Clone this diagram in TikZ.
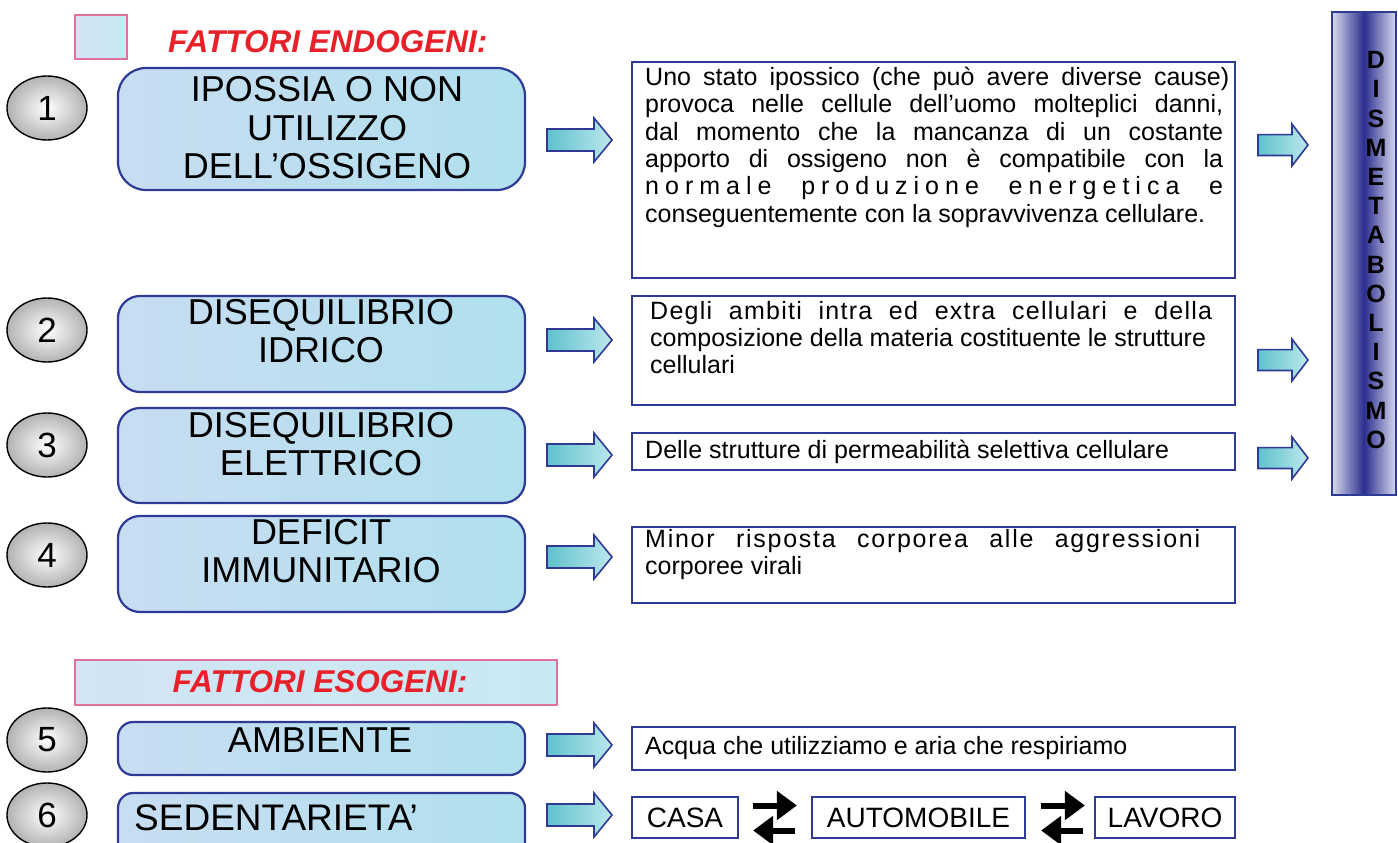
\documentclass[tikz,border=0pt]{standalone}
\usepackage{fontspec}
\setmainfont{Liberation Sans}
\usetikzlibrary{arrows.meta,shapes.geometric,calc}
\definecolor{bord}{HTML}{2E3A94}
\definecolor{pinkb}{HTML}{E0709C}
\definecolor{lbA}{HTML}{C8DDF1}
\definecolor{lbB}{HTML}{B0E0EE}
\definecolor{redt}{HTML}{E8202A}
\definecolor{arrA}{HTML}{5FC2CC}
\definecolor{arrB}{HTML}{BCE7EC}
\definecolor{dismC}{HTML}{2B2F8F}
\definecolor{dismL}{HTML}{D8DAEE}
\newcommand{\fbig}{\fontsize{36}{38.5}\selectfont}
\newcommand{\ftxt}{\fontsize{25}{27.3}\selectfont}
\newcommand{\jl}[1]{\makebox[578pt][s]{#1}}
\newcommand{\blockarrow}[5]{% x tail, y center, length, head length, scale
  \draw[blkarrow] ({#1},{#2-11*#5}) -- ({#1+#3-#4},{#2-11*#5}) -- ({#1+#3-#4},{#2-22*#5})
    -- ({#1+#3},{#2}) -- ({#1+#3-#4},{#2+22*#5}) -- ({#1+#3-#4},{#2+11*#5}) -- ({#1},{#2+11*#5}) -- cycle;}
\begin{document}
\begin{tikzpicture}[x=1pt,y=-1pt,
  factor/.style={draw=bord,line width=2.2pt,left color=lbA,right color=lbB,minimum width=407pt,inner sep=0pt},
  ftext/.style={font=\fbig,align=center,inner sep=0pt},
  numc/.style={ellipse,draw=black,line width=1.4pt,inner color=white,outer color=gray!60,
     minimum width=80pt,minimum height=64pt,inner sep=0pt,font=\fontsize{35}{35}\selectfont},
  tbox/.style={draw=bord,line width=2.2pt,fill=white,minimum width=603pt,inner sep=0pt},
  sbox/.style={draw=bord,line width=2.2pt,fill=white,minimum height=41pt,inner sep=0pt,font=\fontsize{28}{28}\selectfont},
  ttext/.style={font=\ftxt,align=left,inner sep=0pt,anchor=north west},
  legend/.style={draw=pinkb,line width=1.5pt,left color=lbA!80!white,right color=lbB!70!white,inner sep=0pt},
  ftitle/.style={text=redt,font=\fontsize{31.5}{31.5}\selectfont\bfseries\itshape,inner sep=0pt},
  blkarrow/.style={draw=bord,line width=1.6pt,left color=arrA,right color=arrB,line join=miter},
  swaparrow/.style={line width=6pt,-{Triangle[length=20pt,width=28pt]}}
]
\useasboundingbox (0,0) rectangle (1398,843);
\clip (0,0) rectangle (1398,843);
\fill[white] (0,0) rectangle (1398,843);

% ---- legend / titles
\node[legend,minimum width=52pt,minimum height=44pt] (leg1) at (101,37) {};
\node[ftitle,anchor=west] (endo) at (168,42) {FATTORI ENDOGENI:};

% ---- factor boxes
\node[factor,rounded corners=28pt,minimum height=122pt] (f1) at (321.5,129) {};
\node[ftext] (f1t) at (327,128) {IPOSSIA O NON\\UTILIZZO\\DELL’OSSIGENO};
\node[factor,rounded corners=22pt,minimum height=96pt] (f2) at (321.5,344) {};
\node[ftext] (f2t) at (321,331) {DISEQUILIBRIO\\IDRICO};
\node[factor,rounded corners=22pt,minimum height=95pt] (f3) at (321.5,455.5) {};
\node[ftext] (f3t) at (321,444) {DISEQUILIBRIO\\ELETTRICO};
\node[factor,rounded corners=22pt,minimum height=96pt] (f4) at (321.5,564) {};
\node[ftext] (f4t) at (321,551) {DEFICIT\\IMMUNITARIO};

\node[legend,minimum width=482pt,minimum height=45pt] (leg2) at (316,682.5) {};
\node[ftitle] (eso) at (320,682) {FATTORI ESOGENI:};

\node[factor,rounded corners=15pt,minimum height=53pt] (f5) at (321.5,748.5) {};
\node[ftext] (f5t) at (320,740) {AMBIENTE};
\node[factor,rounded corners=15pt,minimum height=70pt] (f6) at (321.5,828) {};
\node[ftext,anchor=west,font=\fontsize{37}{37}\selectfont] (f6t) at (134,818) {SEDENTARIETA’};

% ---- numbered circles
\node[numc] (c1) at (47,108) {1};
\node[numc] (c2) at (47,330) {2};
\node[numc] (c3) at (47,445) {3};
\node[numc] (c4) at (47,555) {4};
\node[numc] (c5) at (47,740) {5};
\node[numc] (c6) at (47,815) {6};

% ---- block arrows
\blockarrow{547}{140}{65}{18}{1}
\blockarrow{547}{340}{65}{18}{1}
\blockarrow{547}{455}{65}{18}{1}
\blockarrow{547}{557}{65}{18}{1}
\blockarrow{547}{745}{65}{18}{1}
\blockarrow{547}{815}{65}{18}{1}
\blockarrow{1258}{145}{50}{16}{0.95}
\blockarrow{1258}{360}{50}{16}{0.95}
\blockarrow{1258}{458}{50}{16}{0.95}

% ---- text boxes
\node[tbox,minimum height=216pt] (t1) at (933.5,170) {};
\node[ttext] (t1t) at (645,67) {\makebox[584pt][s]{Uno stato ipossico (che può avere diverse cause)}\\
\jl{provoca nelle cellule dell’uomo molteplici danni,}\\
\jl{dal momento che la mancanza di un costante}\\
\jl{apporto di ossigeno non è compatibile con la}\\
\jl{\addfontfeatures{LetterSpace=24}normale produzione energetica e}\\
conseguentemente con la sopravvivenza cellulare.};

\node[tbox,minimum height=109pt] (t2) at (933.5,350.5) {};
\node[ttext] (t2t) at (650,301) {\makebox[562pt][s]{\addfontfeatures{LetterSpace=5}Degli ambiti intra ed extra cellulari e della}\\
composizione della materia costituente le strutture\\
cellulari};

\node[tbox,minimum height=37pt] (t3) at (933.5,451.5) {};
\node[ttext,anchor=west] (t3t) at (645,452) {Delle strutture di permeabilità selettiva cellulare};

\node[tbox,minimum height=76pt] (t4) at (933.5,565) {};
\node[ttext] (t4t) at (645,529) {\makebox[555pt][s]{\addfontfeatures{LetterSpace=7}Minor risposta corporea alle aggressioni}\\
corporee virali};

\node[tbox,minimum height=43pt] (t5) at (933.5,748.5) {};
\node[ttext,anchor=west] (t5t) at (645,748) {Acqua che utilizziamo e aria che respiriamo};

\node[sbox,minimum width=106pt] (casa) at (685,817.5) {CASA};
\node[sbox,minimum width=213pt] (auto) at (918.5,817.5) {AUTOMOBILE};
\node[sbox,minimum width=140pt] (lavoro) at (1165,817.5) {LAVORO};

\draw[swaparrow] ($(casa.east)+(14,-12)$) -- ($(auto.west)+(-14,-12)$);
\draw[swaparrow] ($(auto.west)+(-16,13)$) -- ($(casa.east)+(14,13)$);
\draw[swaparrow] ($(auto.east)+(15,-12)$) -- ($(lavoro.west)+(-9,-12)$);
\draw[swaparrow] ($(lavoro.west)+(-11,13)$) -- ($(auto.east)+(15,13)$);

% ---- DISMETABOLISMO bar
\node[draw=bord,line width=1.5pt,left color=dismL,right color=dismL,middle color=dismC,
   minimum width=64pt,minimum height=483pt,inner sep=0pt] (dism) at (1364,253.5) {};
\node[font=\fontsize{25}{29.2}\selectfont\bfseries,align=center,inner sep=0pt] (dismt) at (1376,250)
  {D\\I\\S\\M\\E\\T\\A\\B\\O\\L\\I\\S\\M\\O};
\end{tikzpicture}
\end{document}
